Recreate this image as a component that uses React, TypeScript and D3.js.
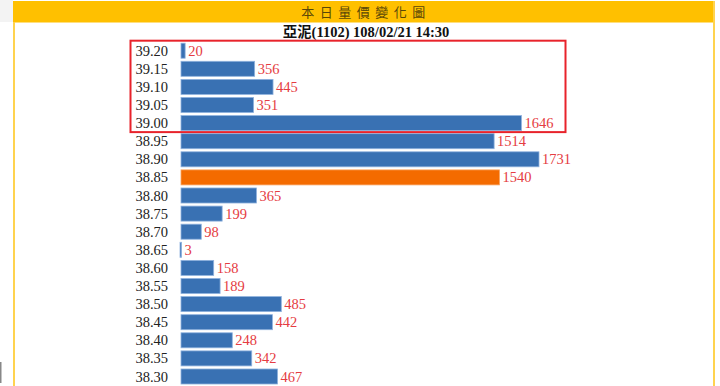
import * as d3 from "d3";

const prices = [
  "39.20", "39.15", "39.10", "39.05", "39.00", "38.95", "38.90", "38.85", "38.80",
  "38.75", "38.70", "38.65", "38.60", "38.55", "38.50", "38.45", "38.40", "38.35", "38.30",
];
const volumes = [20, 356, 445, 351, 1646, 1514, 1731, 1540, 365, 199, 98, 3, 158, 189, 485, 442, 248, 342, 467];
const currentPrice = "38.85";
const boxedPrices = ["39.20", "39.15", "39.10", "39.05", "39.00"];

const title = "本日量價變化圖";
const subtitle = "亞泥(1102) 108/02/21 14:30";

const width = 720;
const height = 386;

const App = () => {
  const rowStep = 18.1;
  const firstRowCenter = 50.7;
  const top = firstRowCenter - rowStep / 2;

  const y = d3
    .scaleBand<string>()
    .domain(prices)
    .range([top, top + rowStep * prices.length])
    .paddingInner(0.17)
    .paddingOuter(0.085);

  const barLeft = 181;
  const x = d3.scaleLinear([0, 1731], [barLeft, 539]);

  const serif = "'Liberation Serif', 'Times New Roman', serif";

  const boxTop = y(boxedPrices[0])! - 2.5;
  const boxBottom = y(boxedPrices[boxedPrices.length - 1])! + y.bandwidth() + 1.5;

  return (
    <svg
      width={width}
      height={height}
      style={{ position: "fixed", left: 0, top: 0, display: "block", background: "#fff" }}
    >
      <rect x={0} y={0} width={13} height={22} fill='#f3f3f3' />
      <rect x={0} y={362} width={1.5} height={21} fill='#888' />
      <rect x={13} y={1} width={701} height={21.5} fill='#FFC000' />
      <line x1={14} x2={14} y1={22} y2={height} stroke='#FFD34F' strokeWidth={2} />
      <line x1={714} x2={714} y1={1} y2={height} stroke='#FFD34F' strokeWidth={2} />
      <text
        x={366}
        y={16.5}
        textAnchor='middle'
        fontFamily="'Noto Sans CJK TC', sans-serif"
        fontSize={13}
        letterSpacing={5.5}
        fill='#5a4708'
      >
        {title}
      </text>
      <text
        x={366}
        y={37}
        textAnchor='middle'
        fontFamily={`${serif}, 'Noto Sans CJK TC'`}
        fontSize={14.5}
        fontWeight='bold'
        fill='#111'
      >
        {subtitle}
      </text>

      <g>
        {prices.map((p, i) => {
          const yy = y(p)!;
          const w = Math.max(x(volumes[i]) - barLeft, 1.5);
          const isCur = p === currentPrice;
          return (
            <g key={p}>
              <text
                x={168}
                y={yy + y.bandwidth() / 2 + 5}
                textAnchor='end'
                fontFamily={serif}
                fontSize={14.5}
                fill='#222'
              >
                {p}
              </text>
              <rect
                x={volumes[i] < 10 ? 180 : barLeft}
                y={yy}
                width={w}
                height={y.bandwidth()}
                fill={isCur ? "#F46B00" : "#3971B3"}
                stroke={isCur ? "#F9A460" : "#8FB2DE"}
                strokeWidth={0.8}
              />
              <text
                x={(volumes[i] < 10 ? 180 : barLeft) + w + 3}
                y={yy + y.bandwidth() / 2 + 5}
                fontFamily={serif}
                fontSize={14.5}
                fill='#E53C42'
              >
                {volumes[i]}
              </text>
            </g>
          );
        })}
      </g>

      <rect
        x={130.5}
        y={boxTop}
        width={435}
        height={boxBottom - boxTop}
        fill='none'
        stroke='#E8232B'
        strokeWidth={2}
      />
    </svg>
  );
};

export default App;
